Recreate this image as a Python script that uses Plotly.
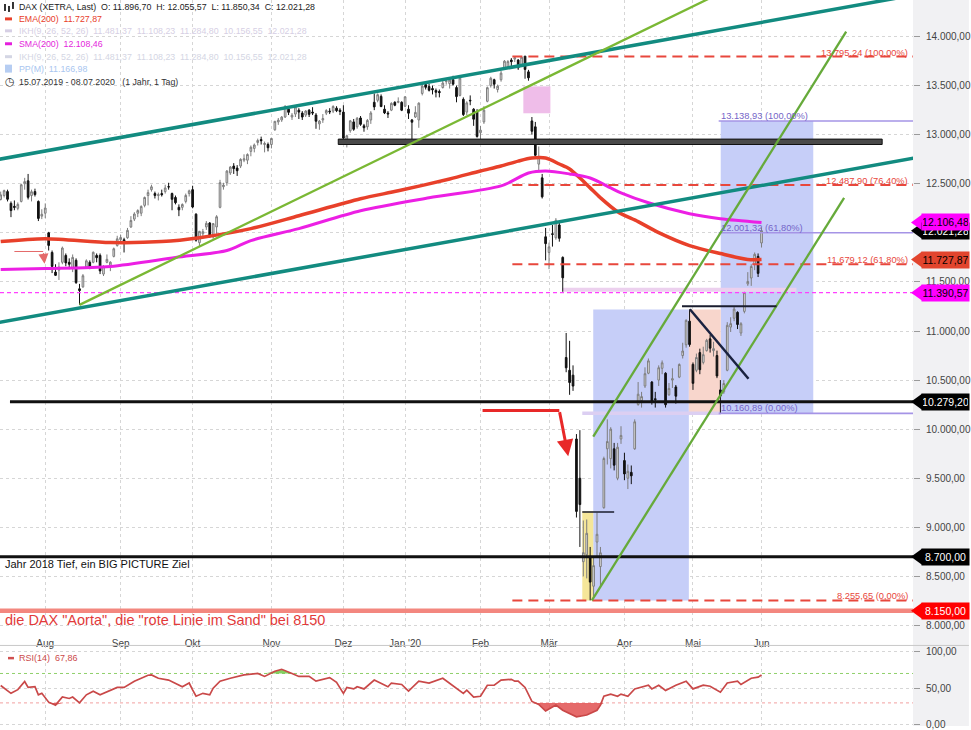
import plotly.graph_objects as go
import pandas as pd

# ---------------- trading days (Xetra) ----------------
HOLIDAYS = ["2019-12-24", "2019-12-25", "2019-12-26", "2019-12-31", "2020-01-01",
            "2020-04-10", "2020-04-13", "2020-05-01", "2020-06-01"]
DAYS = [d for d in pd.bdate_range("2019-07-15", "2020-06-02")
        if d.strftime("%Y-%m-%d") not in HOLIDAYS]
DAY_IDX = list(range(len(DAYS)))

month_keys = ["2019-08", "2019-09", "2019-10", "2019-11", "2019-12", "2020-01",
              "2020-02", "2020-03", "2020-04", "2020-05", "2020-06"]
month_labels = ["Aug", "Sep", "Okt", "Nov", "Dez", "Jan '20", "Feb", "Mär", "Apr", "Mai", "Jun"]
month_pos = [next(i for i, d in enumerate(DAYS) if d.strftime("%Y-%m") == m) for m in month_keys]

# ---------------- DAX daily OHLC (15.07.2019 - 02.06.2020) ----------------
opens = [
    12340, 12380, 12420, 12300, 12270, 12250, 12320, 12500, 12530, 12380, 12420, 12320, 12170,
    12200, 12000, 11800, 11600, 11620, 11700, 11770, 11700, 11640, 11720, 11430, 11450, 11650, 11700, 11700, 11770, 11770, 11580, 11700, 11670, 11760, 11870,
    11930, 11930, 11950, 12060, 12140, 12200, 12200, 12280, 12380, 12440, 12400, 12380, 12400, 12420, 12470, 12400, 12360, 12260, 12260, 12320, 12400,
    12440, 12190, 11900, 11990, 12060, 12100, 11960, 12060, 12260, 12470, 12510, 12610, 12680, 12660, 12680, 12740, 12740, 12830, 12860, 12920, 12950, 12900, 12900,
    12900, 13050, 13130, 13150, 13180, 13260, 13180, 13210, 13250, 13220, 13200, 13250, 13230, 13200, 13110, 13150, 13220, 13240, 13240, 13270, 13250,
    13230, 12900, 13040, 13130, 13080, 13170, 13090, 13080, 13150, 13330, 13350, 13390, 13260, 13220, 13250, 13330, 13330, 13330,
    13290, 13260, 13150, 13180, 13150, 13420, 13510, 13490, 13470, 13450, 13440, 13480, 13540, 13520, 13560, 13480, 13400, 13360, 13230, 13350, 13260, 13230,
    13020, 13130, 13340, 13500, 13560, 13460, 13560, 13670, 13690, 13760, 13770, 13760, 13700, 13800, 13640, 13140, 13080, 12700, 12560, 11960,
    11800, 11990, 11950, 12080, 11750, 10730, 10600, 10550, 9900, 9500, 8650, 8720, 8700, 8400, 8850, 8600, 9200, 9800, 9700, 9800, 9500, 9900,
    9680, 9500, 9560, 9800, 10250, 10290, 10440, 10570, 10480, 10310, 10500, 10620, 10570, 10350, 10500, 10430, 10530, 10750, 10860, 11100,
    10660, 10600, 10780, 10680, 10800, 10920, 10800, 10750, 10400, 10380, 10600, 11040, 11130, 11190, 10980, 11200, 11480, 11540, 11680, 11760,
    11896.70,
]
highs = [
    12420, 12440, 12440, 12320, 12330, 12310, 12500, 12560, 12600, 12440, 12450, 12330, 12240,
    12300, 12010, 11820, 11680, 11700, 11860, 11790, 11740, 11780, 11740, 11480, 11580, 11730, 11720, 11810, 11790, 11790, 11670, 11780, 11710, 11850, 11970,
    11980, 11950, 12050, 12170, 12210, 12240, 12280, 12370, 12440, 12490, 12420, 12410, 12440, 12490, 12510, 12410, 12380, 12290, 12300, 12400, 12440,
    12480, 12200, 12020, 12040, 12120, 12110, 12100, 12180, 12540, 12510, 12640, 12680, 12710, 12690, 12760, 12800, 12810, 12890, 12910, 12960, 12980, 12930, 12920,
    12970, 13140, 13170, 13190, 13300, 13290, 13220, 13300, 13270, 13240, 13250, 13260, 13280, 13220, 13150, 13210, 13260, 13270, 13300, 13290, 13270,
    13300, 13000, 13150, 13160, 13180, 13190, 13110, 13160, 13240, 13420, 13420, 13410, 13300, 13240, 13330, 13340, 13380, 13340,
    13390, 13300, 13160, 13290, 13330, 13510, 13530, 13520, 13500, 13470, 13460, 13550, 13570, 13560, 13600, 13500, 13600, 13380, 13340, 13400, 13270, 13260,
    13090, 13290, 13490, 13590, 13570, 13510, 13650, 13760, 13760, 13780, 13790, 13770, 13795, 13800, 13660, 13180, 13130, 12880, 12600, 12050,
    11900, 12080, 12150, 12120, 11760, 10980, 10900, 10650, 9950, 9990, 9070, 9080, 8800, 8690, 9150, 8800, 9720, 10100, 10020, 9860, 9860, 10030,
    9760, 9640, 9630, 10100, 10480, 10380, 10630, 10720, 10490, 10380, 10650, 10700, 10580, 10470, 10620, 10450, 10670, 10880, 11120, 11220,
    10680, 10770, 10820, 10840, 10920, 10960, 10890, 10800, 10500, 10500, 11090, 11140, 11250, 11200, 11090, 11400, 11600, 11680, 11800, 11790,
    12055.57,
]
lows = [
    12330, 12360, 12320, 12160, 12230, 12230, 12310, 12440, 12340, 12320, 12370, 12120, 12140,
    12150, 11820, 11590, 11560, 11520, 11680, 11660, 11630, 11600, 11480, 11266, 11440, 11640, 11630, 11690, 11700, 11580, 11560, 11690, 11610, 11750, 11860,
    11900, 11800, 11940, 12050, 12120, 12160, 12170, 12260, 12280, 12420, 12350, 12330, 12370, 12400, 12440, 12230, 12290, 12170, 12230, 12300, 12370,
    12250, 11910, 11860, 11950, 12030, 11950, 11940, 11990, 12250, 12440, 12480, 12590, 12600, 12580, 12660, 12720, 12700, 12780, 12820, 12890, 12900, 12820, 12830,
    12860, 13040, 13100, 13130, 13170, 13200, 13150, 13180, 13160, 13150, 13180, 13180, 13200, 13060, 13050, 13120, 13200, 13210, 13220, 13230, 13200,
    12950, 12870, 13020, 13040, 13060, 13090, 13030, 13050, 13110, 13250, 13330, 13280, 13210, 13170, 13240, 13290, 13320, 13240,
    13280, 13160, 12950, 13170, 13070, 13400, 13460, 13440, 13410, 13380, 13380, 13470, 13510, 13470, 13500, 13330, 13390, 13190, 13200, 13300, 13090, 12970,
    12950, 13110, 13330, 13480, 13470, 13430, 13540, 13660, 13680, 13700, 13740, 13660, 13700, 13570, 13550, 13000, 12770, 12630, 12350, 11720,
    11630, 11860, 11930, 11910, 11400, 10580, 10350, 10390, 9100, 8800, 8500, 8480, 8256, 8300, 8700, 8400, 9190, 9640, 9600, 9580, 9480, 9850,
    9480, 9390, 9440, 9790, 10240, 10220, 10420, 10560, 10250, 10220, 10440, 10560, 10220, 10340, 10420, 10260, 10520, 10720, 10830, 10840,
    10400, 10580, 10560, 10660, 10790, 10780, 10740, 10520, 10160, 10360, 10590, 10990, 11100, 11020, 10950, 11180, 11460, 11460, 11620, 11550,
    11850.34,
]
closes = [
    12387, 12430, 12342, 12227, 12260, 12290, 12490, 12522, 12362, 12419, 12390, 12147, 12189,
    12253, 11872, 11658, 11567, 11650, 11845, 11694, 11680, 11750, 11493, 11412, 11563, 11715, 11652, 11802, 11747, 11612, 11658, 11730, 11701, 11838, 11939,
    11953, 11910, 12025, 12126, 12192, 12227, 12269, 12360, 12410, 12469, 12381, 12389, 12389, 12457, 12468, 12342, 12307, 12234, 12289, 12381, 12428,
    12263, 11925, 12015, 12012, 12097, 11970, 12094, 12164, 12511, 12486, 12629, 12670, 12654, 12633, 12748, 12754, 12798, 12872, 12895, 12941, 12939, 12910, 12867,
    12961, 13136, 13148, 13179, 13289, 13228, 13198, 13283, 13230, 13180, 13241, 13207, 13221, 13137, 13138, 13164, 13246, 13233, 13287, 13245, 13236,
    12965, 12989, 13141, 13055, 13167, 13105, 13071, 13145, 13221, 13283, 13407, 13287, 13222, 13212, 13319, 13300, 13337, 13249,
    13386, 13219, 13127, 13227, 13321, 13495, 13483, 13452, 13457, 13432, 13429, 13526, 13549, 13556, 13515, 13388, 13577, 13205, 13324, 13345, 13158, 12982,
    13046, 13250, 13479, 13575, 13514, 13494, 13627, 13749, 13745, 13744, 13784, 13681, 13789, 13665, 13579, 13035, 12790, 12774, 12367, 11890,
    11857, 11985, 12128, 11944, 11542, 10625, 10475, 10439, 9162, 9232, 8742, 8939, 8442, 8610, 8929, 8741, 9701, 9874, 10000, 9633, 9816, 9936,
    9544, 9571, 9525, 10075, 10356, 10332, 10565, 10696, 10280, 10301, 10626, 10676, 10249, 10415, 10514, 10336, 10659, 10796, 11108, 10862,
    10467, 10730, 10606, 10759, 10905, 10825, 10820, 10542, 10337, 10465, 11058, 11075, 11223, 11066, 11074, 11391, 11505, 11657, 11781, 11587,
    12021.28,
]

# EMA(200) / SMA(200) (trading-day index, value)
ema_day = [0, 13, 32, 47, 58, 73, 87, 105, 116, 131, 140, 146, 151, 155, 159, 163, 166, 169, 172, 175, 180, 186, 192, 201, 210, 218, 222]
ema_val = [11911, 11941, 11901, 11911, 11951, 12043, 12174, 12347, 12428, 12549, 12630, 12681, 12731, 12762, 12762,
           12701, 12651, 12559, 12458, 12357, 12215, 12114, 12002, 11870, 11789, 11729, 11728]
sma_day = [0, 13, 32, 51, 66, 73, 87, 105, 125, 146, 154, 159, 166, 172, 178, 181, 189, 201, 210, 222]
sma_val = [11627, 11637, 11658, 11749, 11820, 11921, 12043, 12225, 12357, 12478, 12610, 12630, 12600, 12559,
           12458, 12407, 12306, 12195, 12144, 12106]

# RSI(14)
rsi_day = [0, 3, 5, 7, 8, 10, 11, 12, 14, 16, 18, 20, 21, 23, 25, 27, 29, 31, 34, 36,
           39, 43, 44, 46, 49, 53, 55, 56, 57, 59, 61, 62, 64, 67, 71, 75, 77, 80, 82, 85,
           87, 90, 92, 96, 98, 100, 101, 103, 104, 106, 109, 113, 114, 117, 119, 122, 125, 129, 132, 135,
           136, 138, 140, 142, 144, 146, 149, 150, 151, 153, 155, 157, 159, 162, 164, 168, 171, 174, 175, 176,
           178, 180, 181, 183, 185, 187, 189, 190, 192, 194, 197, 200, 202, 205, 207, 210, 212, 215, 216, 219,
           221, 222]
rsi_val = [53.6, 43, 48, 59, 51, 52, 41, 43, 31, 27, 38, 36, 38, 30, 41, 46, 41, 44.6, 51, 51,
           59.5, 67.6, 68, 63.5, 61, 52, 57, 47.7, 39, 43, 41, 50, 59.5, 63.5, 68, 70, 66, 73, 75.7, 70,
           66, 66, 59.5, 64.4, 58, 43, 51, 49, 52, 49, 61, 52, 57, 55, 46, 59.5, 57, 63.5, 52.7, 43,
           47.3, 38, 39, 54, 54, 61, 62, 59.5, 59.5, 51, 32, 28, 19, 27, 20, 11, 13.5, 20, 27, 39,
           42, 39, 42, 39, 49, 51, 54, 49, 54, 47, 54, 59.5, 49, 54, 52.7, 44.6, 57, 59.5, 55, 63.5,
           65, 67.86]

# price levels
fib1_levels = [13795.24, 12487.90, 11679.12, 8255.65]
fib1_labels = ["13.795,24 (100,00%)", "12.487,90 (76,40%)", "11.679,12 (61,80%)", "8.255,65 (0,00%)"]
fib2_levels = [13138.93, 12001.32, 10160.89]
fib2_labels = ["13.138,93 (100,00%)", "12.001,32 (61,80%)", "10.160,89 (0,00%)"]
tag_values = [12021.28, 12106.48, 11727.87, 11390.57, 10279.20, 8700.00, 8150.00]
tag_bg = ["#000000", "#ff00ff", "#e2452e", "#ff00ff", "#000000", "#000000", "#ff0000"]
tag_fg = ["#ffffff", "#000000", "#000000", "#000000", "#ffffff", "#ffffff", "#ffffff"]
price_ticks = [8000, 8500, 9000, 9500, 10000, 10500, 11000, 11500, 12000, 12500, 13000, 13500, 14000]
price_hidden = [12000]
rsi_ticks = [0, 50, 100]

FONT = "Liberation Sans, Arial, sans-serif"
W, H, PW = 971, 730, 915
XR = [-0.2, 266.2]
YR = [7969, 14372]
PX_PRICE = (YR[1] - YR[0]) / 632.0


def de(v):
    return f"{v:,.2f}".replace(",", "X").replace(".", ",").replace("X", ".")


def pxx(x):
    return x / PW


def pxy(y):
    return 1 - y / H


fig = go.Figure()

fig.add_trace(go.Candlestick(
    x=DAY_IDX, open=opens, high=highs, low=lows, close=closes,
    increasing=dict(line=dict(color="#7d7d7d", width=1), fillcolor="#e4e4e4"),
    decreasing=dict(line=dict(color="#111111", width=1), fillcolor="#111111"),
    whiskerwidth=0, showlegend=False, hoverinfo="skip", xaxis="x", yaxis="y"))
fig.add_trace(go.Scatter(x=ema_day, y=ema_val, mode="lines", showlegend=False, hoverinfo="skip",
                         line=dict(color="#e8402a", width=3.5, shape="spline", smoothing=0.8)))
fig.add_trace(go.Scatter(x=sma_day, y=sma_val, mode="lines", showlegend=False, hoverinfo="skip",
                         line=dict(color="#ec1fe4", width=3, shape="spline", smoothing=0.8)))

# RSI panel
rsi_hi = [max(v, 70) for v in rsi_val]
rsi_lo = [min(v, 30) for v in rsi_val]
fig.add_trace(go.Scatter(x=rsi_day, y=[70] * len(rsi_day), mode="lines", line=dict(width=0),
                         showlegend=False, hoverinfo="skip", xaxis="x2", yaxis="y2"))
fig.add_trace(go.Scatter(x=rsi_day, y=rsi_hi, mode="lines", line=dict(width=0), fill="tonexty",
                         fillcolor="rgba(110,200,70,0.85)", showlegend=False, hoverinfo="skip",
                         xaxis="x2", yaxis="y2"))
fig.add_trace(go.Scatter(x=rsi_day, y=[30] * len(rsi_day), mode="lines", line=dict(width=0),
                         showlegend=False, hoverinfo="skip", xaxis="x2", yaxis="y2"))
fig.add_trace(go.Scatter(x=rsi_day, y=rsi_lo, mode="lines", line=dict(width=0), fill="tonexty",
                         fillcolor="rgba(225,80,80,0.85)", showlegend=False, hoverinfo="skip",
                         xaxis="x2", yaxis="y2"))
fig.add_trace(go.Scatter(x=rsi_day, y=rsi_val, mode="lines", line=dict(color="#c94848", width=1.7),
                         showlegend=False, hoverinfo="skip", xaxis="x2", yaxis="y2"))

shapes = []
ann = []


def line(x0, y0, x1, y1, color, width, dash=None, xref="x", yref="y", layer="above"):
    d = dict(type="line", x0=x0, y0=y0, x1=x1, y1=y1, xref=xref, yref=yref, layer=layer,
             line=dict(color=color, width=width))
    if dash:
        d["line"]["dash"] = dash
    shapes.append(d)


def rect(x0, y0, x1, y1, fill, layer="between", xref="x", yref="y", lc=None, lw=0):
    shapes.append(dict(type="rect", x0=x0, y0=y0, x1=x1, y1=y1, xref=xref, yref=yref, layer=layer,
                       fillcolor=fill, line=dict(color=lc or fill, width=lw)))


# right axis background
shapes.append(dict(type="rect", xref="paper", yref="paper", x0=1.0, x1=W / PW, y0=0, y1=1,
                   fillcolor="#f1f1f3", line=dict(width=0), layer="below"))
# panel separator
line(0, pxy(649), W / PW, pxy(649), "#c8c8c8", 1, xref="paper", yref="paper")

# coloured zones
rect(172.9, 8255.65, 200.8, 11220, "#c6cef8")
rect(210.1, 10160.89, 237.1, 13138.93, "#c6cef8")
rect(200.8, 10160.89, 210.1, 11220, "#f8d6cc")
rect(169.7, 8255.65, 172.9, 9165, "#f5e699")
rect(152.5, 13218, 160.4, 13492, "#efbde9")
line(169.7, 10160.89, 210.1, 10160.89, "#dccff2", 3.5, layer="between")
line(163.9, 11420, 232.2, 11420, "#ecd0ee", 4, layer="between")

# horizontal levels
line(pxx(10), 10279.20, 1, 10279.20, "#111111", 3, xref="paper")
line(0, 8700, 1, 8700, "#111111", 3, xref="paper")
line(0, 8150, 1, 8150, "#f3877f", 4.5, xref="paper")
line(0, 11390.57, 1, 11390.57, "#ff40ff", 1.3, dash="4px,3px", xref="paper")
rect(98.5, 12900, 257.2, 12955, "#4a4a4a", layer="above", lc="#111111", lw=1)

# fib lines
for v in fib1_levels:
    line(149.3, v, XR[1], v, "#e8473c", 2, dash="10px,6px")
for v in fib2_levels:
    line(209.5, v, XR[1], v, "#a594e6", 1.6)

# trend channels
line(-5, 12721, 270, 14445, "#128b80", 3.5)
line(-5, 11059, 270, 12783, "#128b80", 3.5)
line(23, 11266, 212, 14477, "#7ab834", 2.3)
line(172.9, 9925, 246.7, 14049, "#66aa3a", 2.3)
line(172.5, 8255.65, 246.1, 12357, "#66aa3a", 2.3)

# black helper lines
line(198.8, 11252, 226.4, 11252, "#1a1d2e", 2.2)
line(201.1, 11222, 218.2, 10513, "#1a2240", 2.5)
line(169.7, 9155, 179.0, 9155, "#1a1d2e", 1.5)

# red arrows
line(140.6, 10189, 163.0, 10189, "#e82828", 3)
ann.append(dict(x=165.6, y=9725, ax=163.0, ay=10189, xref="x", yref="y", axref="x", ayref="y",
                showarrow=True, arrowhead=2, arrowsize=1.1, arrowwidth=3, arrowcolor="#e82828", text=""))
line(4.0, 11810, 12.4, 11810, "#e46a6a", 1)
ann.append(dict(x=12.8, y=11685, ax=12.4, ay=11810, xref="x", yref="y", axref="x", ayref="y",
                showarrow=True, arrowhead=2, arrowsize=2, arrowwidth=1, arrowcolor="#e46a6a", text=""))

# fib labels
for v, t in zip(fib1_levels, fib1_labels):
    ann.append(dict(x=pxx(912), y=v, xref="paper", yref="y", text=t, showarrow=False,
                    xanchor="right", yanchor="bottom", yshift=-3,
                    font=dict(family=FONT, size=9.3, color="#e8473c")))
for v, t in zip(fib2_levels, fib2_labels):
    ann.append(dict(x=pxx(721), y=v, xref="paper", yref="y", text=t, showarrow=False,
                    xanchor="left", yanchor="bottom", yshift=-2,
                    font=dict(family=FONT, size=9.3, color="#7565c8")))

# price tags on the right axis
HALF = 8 * PX_PRICE
for v, bg, fg in zip(tag_values, tag_bg, tag_fg):
    shapes.append(dict(type="path", xref="paper", yref="y", layer="above",
                       path=f"M {pxx(913)},{v} L {pxx(924)},{v + HALF} L {pxx(924)},{v - HALF} Z",
                       fillcolor=bg, line=dict(width=0)))
    ann.append(dict(x=pxx(923), y=v, xref="paper", yref="y", text=de(v), showarrow=False,
                    xanchor="left", yanchor="middle", width=45, height=14, borderpad=1,
                    bgcolor=bg, align="center", font=dict(family=FONT, size=10.5, color=fg)))

# texts
ann.append(dict(x=pxx(3), y=8061, xref="paper", yref="y", showarrow=False, xanchor="left",
                yanchor="middle", text='die DAX "Aorta", die "rote Linie im Sand" bei 8150',
                font=dict(family=FONT, size=14.5, color="#e23a3a")))
ann.append(dict(x=pxx(3), y=8628, xref="paper", yref="y", showarrow=False, xanchor="left",
                yanchor="middle", text="Jahr 2018 Tief, ein BIG PICTURE Ziel",
                font=dict(family=FONT, size=11, color="#111111")))

# legend block (top-left)
legend_rows = [
    (7, "DAX (XETRA, Last)  O: 11.896,70  H: 12.055,57  L: 11.850,34  C: 12.021,28", "#222222"),
    (19, "EMA(200)  11.727,87", "#e8402a"),
    (31, "IKH(9, 26, 52, 26)  11.481,37  11.108,23  11.284,80  10.156,55  12.021,28", "#d6cfe4"),
    (44, "SMA(200)  12.108,46", "#e41fdc"),
    (57, "IKH(9, 26, 52, 26)  11.481,37  11.108,23  11.284,80  10.156,55  12.021,28", "#d4d6e4"),
    (69, "PP(M)  11.166,98", "#a9c6f0"),
    (82, "15.07.2019 - 08.07.2020   (1 Jahr, 1 Tag)", "#333333"),
]
for y, t, c in legend_rows:
    ann.append(dict(x=pxx(17), y=pxy(y), xref="paper", yref="paper", text=t, showarrow=False,
                    xanchor="left", yanchor="middle", font=dict(family=FONT, size=8.8, color=c)))
icon_cols = {19: "#e8402a", 31: "#d6cfe4", 44: "#e41fdc", 57: "#d4d6e4"}
for y, c in icon_cols.items():
    shapes.append(dict(type="rect", xref="paper", yref="paper", x0=pxx(5), x1=pxx(12),
                       y0=pxy(y + 1.5), y1=pxy(y - 1.5), fillcolor=c, line=dict(width=0)))
shapes.append(dict(type="rect", xref="paper", yref="paper", x0=pxx(5), x1=pxx(12),
                   y0=pxy(73), y1=pxy(65), fillcolor="#b6cdf2", line=dict(width=0)))
for x0, y0, y1 in [(4, 4, 11), (8, 6, 12), (12, 2, 9)]:
    shapes.append(dict(type="rect", xref="paper", yref="paper", x0=pxx(x0), x1=pxx(x0 + 2),
                       y0=pxy(y1), y1=pxy(y0), fillcolor="#333333", line=dict(width=0)))
ann.append(dict(x=pxx(3), y=pxy(82), xref="paper", yref="paper", text="◷", showarrow=False,
                xanchor="left", yanchor="middle", font=dict(family="DejaVu Sans", size=11, color="#333333")))

# RSI legend + guide lines
shapes.append(dict(type="rect", xref="paper", yref="paper", x0=pxx(8), x1=pxx(14),
                   y0=pxy(663), y1=pxy(660.5), fillcolor="#d05050", line=dict(width=0)))
ann.append(dict(x=pxx(17), y=pxy(662), xref="paper", yref="paper", text="RSI(14)  67,86",
                showarrow=False, xanchor="left", yanchor="middle",
                font=dict(family=FONT, size=9, color="#cc4a4a")))
line(XR[0], 70, XR[1], 70, "#8fd06a", 1, dash="dot", xref="x2", yref="y2", layer="below")
line(XR[0], 30, XR[1], 30, "#f2a0a0", 1, dash="dot", xref="x2", yref="y2", layer="below")

axis_font = dict(family=FONT, size=10, color="#444444")
fig.update_layout(
    width=W, height=H, margin=dict(l=0, r=W - PW, t=0, b=0),
    paper_bgcolor="white", plot_bgcolor="white", showlegend=False,
    shapes=shapes, annotations=ann,
    xaxis=dict(domain=[0, 1], anchor="y", range=XR, tickvals=month_pos, ticktext=month_labels,
               showgrid=True, gridcolor="#d6d6d6", griddash="dot", gridwidth=1, zeroline=False,
               ticks="", tickfont=axis_font, ticklabelstandoff=7,
               rangeslider=dict(visible=False), fixedrange=True),
    xaxis2=dict(domain=[0, 1], anchor="y2", range=XR, matches="x", tickvals=month_pos,
                showticklabels=False, showgrid=True, gridcolor="#d6d6d6", griddash="dot",
                zeroline=False, ticks=""),
    yaxis=dict(domain=[(H - 632) / H, 1], anchor="x", range=YR, side="right",
               tickvals=price_ticks,
               ticktext=["" if v in price_hidden else de(v) for v in price_ticks],
               ticks="outside", ticklen=6, tickcolor="#9a9a9a", tickfont=axis_font,
               ticklabelstandoff=4, ticklabeloverflow="allow",
               showgrid=True, gridcolor="#d6d6d6", griddash="dot", zeroline=False),
    yaxis2=dict(domain=[0, 81 / H], anchor="x2", range=[-1.4, 108.1], side="right",
                tickvals=rsi_ticks, ticktext=[de(v) for v in rsi_ticks],
                ticks="outside", ticklen=6, tickcolor="#9a9a9a", tickfont=axis_font,
                ticklabelstandoff=4, ticklabeloverflow="allow",
                showgrid=True, gridcolor="#d6d6d6", griddash="dot", zeroline=False),
)

fig.write_html("out.html", config={"displayModeBar": False},
               post_script="document.body.style.margin='0px';")
